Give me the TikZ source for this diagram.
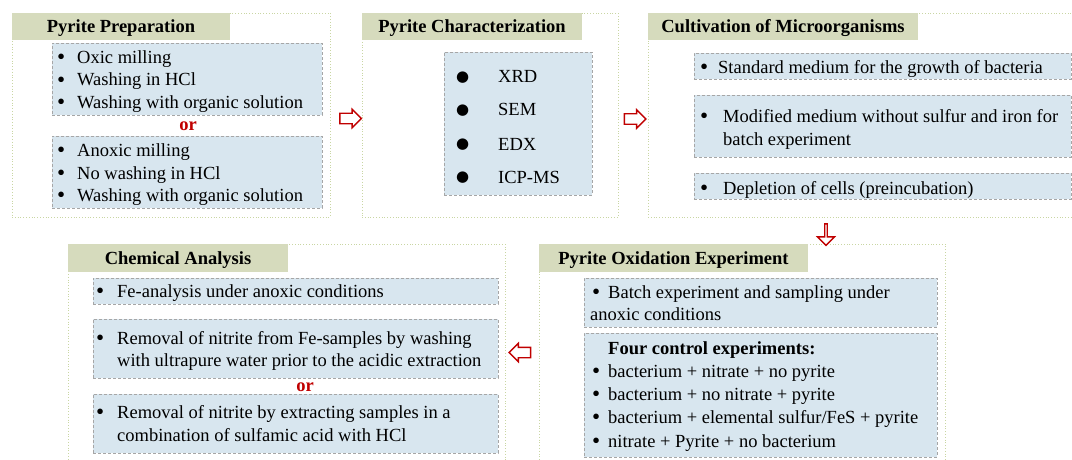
\documentclass[tikz,border=0pt]{standalone}
\usepackage{fontspec}
\usepackage{graphicx}
\setmainfont{Liberation Serif}
\newfontfamily\dejavu{DejaVu Sans}
\usetikzlibrary{shapes.arrows}
\definecolor{hdrfill}{HTML}{D6DBBD}
\definecolor{boxfill}{HTML}{D8E6EF}
\definecolor{boxline}{HTML}{A6A6A6}
\definecolor{panelline}{HTML}{C9D6A3}
\definecolor{arrred}{HTML}{C00000}
\newcommand{\bul}[2][20pt]{\makebox[#1][l]{\raisebox{-1.3pt}{\scalebox{1.25}{\textbullet}}}#2}
\newcommand{\bigdot}{\makebox[42pt][l]{\raisebox{1.2pt}{\dejavu\fontsize{15}{18}\selectfont ●}}}
\newcommand{\bodyfont}{\fontsize{18.5}{22.5}\selectfont}
\tikzset{
  panel/.style={draw=panelline, line width=0.8pt, dotted, anchor=north west, inner sep=0pt, outer sep=0pt},
  hdr/.style={fill=hdrfill, anchor=north west, inner sep=0pt, outer sep=0pt, font=\bodyfont\bfseries, text height=12.6pt, text depth=0pt},
  ibox/.style={draw=boxline, fill=boxfill, line width=0.7pt, dash pattern=on 3pt off 2pt, anchor=north west, inner sep=0pt, outer sep=0pt},
  txt/.style={anchor=base west, inner sep=0pt, font=\bodyfont},
  ortxt/.style={anchor=base, inner sep=0pt, font=\bodyfont\bfseries, text=arrred},
  blockarrow/.style={single arrow, draw=arrred, fill=white, line width=1.4pt, minimum height=21.5pt, minimum width=17pt, single arrow head extend=4pt, inner sep=0pt, text height=9pt, text depth=0pt, anchor=center},
}
\begin{document}
\begin{tikzpicture}[x=1pt,y=-1pt]
\useasboundingbox (0,0) rectangle (1072,460);
\clip (0,0) rectangle (1072,460);
% ---------- Panel 1
\node[panel, minimum width=318pt, minimum height=204pt] (P1) at (12,13) {};
\node[hdr, minimum width=218pt, minimum height=27pt] (H1) at (12,13) {Pyrite Preparation};
\node[ibox, minimum width=270pt, minimum height=72pt] (B1a) at (52,43) {};
\node[ibox, minimum width=270pt, minimum height=72pt] (B1b) at (52,136) {};
\node[txt] (t1a) at (57,63.3) {\bul{Oxic milling}};
\node[txt] (t1b) at (57,86) {\bul{Washing in HCl}};
\node[txt] (t1c) at (57,108.5) {\bul{Washing with organic solution}};
\node[ortxt] (or1) at (188,130.5) {or};
\node[txt] (t1d) at (57,156) {\bul{Anoxic milling}};
\node[txt] (t1e) at (57,179) {\bul{No washing in HCl}};
\node[txt] (t1f) at (57,201.5) {\bul{Washing with organic solution}};
% ---------- Panel 2
\node[panel, minimum width=256pt, minimum height=204pt] (P2) at (362,13) {};
\node[hdr, minimum width=220pt, minimum height=27pt] (H2) at (362,13) {Pyrite Characterization};
\node[ibox, minimum width=148pt, minimum height=143pt] (B2) at (444,52) {};
\node[txt] (t2a) at (456,83) {\bigdot XRD};
\node[txt] (t2b) at (456,116) {\bigdot SEM};
\node[txt] (t2c) at (456,150) {\bigdot EDX};
\node[txt] (t2d) at (456,183) {\bigdot ICP-MS};
% ---------- Panel 3
\node[panel, minimum width=440pt, minimum height=204pt] (P3) at (648,13) {};
\node[hdr, minimum width=270pt, minimum height=27pt] (H3) at (648,13) {Cultivation of Microorganisms};
\node[ibox, minimum width=377pt, minimum height=26pt] (B3a) at (694,53) {};
\node[ibox, minimum width=377pt, minimum height=62pt] (B3b) at (694,95) {};
\node[ibox, minimum width=377pt, minimum height=26pt] (B3c) at (694,173) {};
\node[txt] (t3a) at (700,73.5) {\bul[18pt]{Standard medium for the growth of bacteria}};
\node[txt] (t3b) at (700,122.5) {\bul[23pt]{Modified medium without sulfur and iron for}};
\node[txt] (t3c) at (723,145) {batch experiment};
\node[txt] (t3d) at (700,194) {\bul[23pt]{Depletion of cells (preincubation)}};
% ---------- Panel 4
\node[panel, minimum width=406pt, minimum height=230pt] (P4) at (539,244) {};
\node[hdr, minimum width=269pt, minimum height=28pt] (H4) at (539,244) {Pyrite Oxidation Experiment};
\node[ibox, minimum width=353pt, minimum height=49pt] (B4a) at (584,278) {};
\node[ibox, minimum width=353pt, minimum height=124pt] (B4b) at (584,333) {};
\node[txt] (t4a) at (592,298) {\bul[16pt]{Batch experiment and sampling under}};
\node[txt] (t4b) at (590,320) {anoxic conditions};
\node[txt, font=\bodyfont\bfseries] (t4c) at (608,354) {Four control experiments:};
\node[txt] (t4d) at (592,377) {\bul[16pt]{bacterium + nitrate + no pyrite}};
\node[txt] (t4e) at (592,400) {\bul[16pt]{bacterium + no nitrate + pyrite}};
\node[txt] (t4f) at (592,423) {\bul[16pt]{bacterium + elemental sulfur/FeS + pyrite}};
\node[txt] (t4g) at (592,447) {\bul[16pt]{nitrate + Pyrite + no bacterium}};
% ---------- Panel 5
\node[panel, minimum width=437pt, minimum height=230pt] (P5) at (68,244) {};
\node[hdr, minimum width=220pt, minimum height=28pt] (H5) at (68,244) {Chemical Analysis};
\node[ibox, minimum width=405pt, minimum height=26pt] (B5a) at (93,278) {};
\node[ibox, minimum width=405pt, minimum height=59pt] (B5b) at (93,319) {};
\node[ibox, minimum width=405pt, minimum height=59pt] (B5c) at (93,394) {};
\node[txt] (t5a) at (96,297) {\bul[21pt]{Fe-analysis under anoxic conditions}};
\node[txt] (t5b) at (96,344) {\bul[21pt]{Removal of nitrite from Fe-samples by washing}};
\node[txt] (t5c) at (117,366.5) {with ultrapure water prior to the acidic extraction};
\node[ortxt] (or2) at (305,391.5) {or};
\node[txt] (t5d) at (96,418) {\bul[21pt]{Removal of nitrite by extracting samples in a}};
\node[txt] (t5e) at (117,441.5) {combination of sulfamic acid with HCl};
% ---------- Arrows between panels
\node[blockarrow] (A1) at (348,118.5) {};
\node[blockarrow] (A2) at (632.5,119) {};
\node[blockarrow, shape border rotate=270] (A3) at (826,234) {};
\node[blockarrow, shape border rotate=180] (A4) at (522.5,352.5) {};
\end{tikzpicture}
\end{document}
